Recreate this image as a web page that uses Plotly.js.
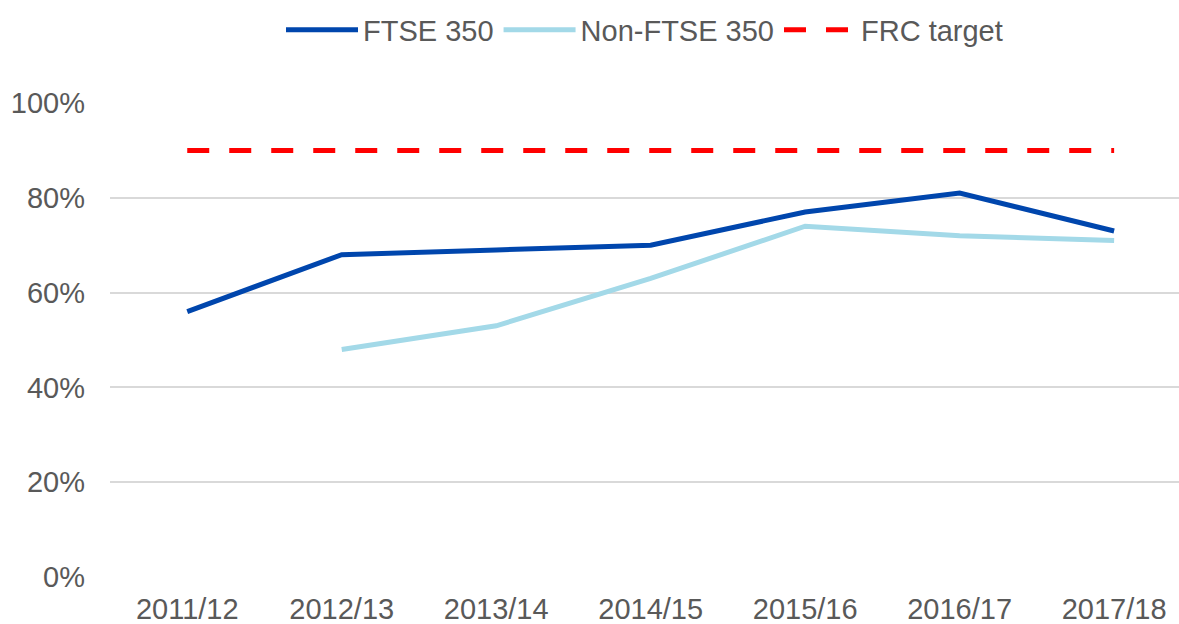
<!DOCTYPE html>
<html>
<head>
<meta charset="utf-8">
<script src="https://cdn.plot.ly/plotly-3.0.1.min.js"></script>
<style>html,body{margin:0;padding:0;background:#fff;}#chart{width:1179px;height:624px;}</style>
</head>
<body>
<div id="chart"></div>
<script>
const categories = ["2011/12","2012/13","2013/14","2014/15","2015/16","2016/17","2017/18"];
const ftse350 = [56, 68, 69, 70, 77, 81, 73];
const nonFtse350 = [null, 48, 53, 63, 74, 72, 71];
const frcTarget = [90, 90, 90, 90, 90, 90, 90];
const yTickVals = [0, 20, 40, 60, 80, 100];
const yTickText = ["0%","20%","40%","60%","80%","100%"];

const font = "Liberation Sans, Arial, sans-serif";
const textColor = "#595959";

const traces = [
  {x: categories, y: ftse350, name: "FTSE 350", type: "scatter", mode: "lines",
   line: {color: "#0046AD", width: 5}},
  {x: categories, y: nonFtse350, name: "Non-FTSE 350", type: "scatter", mode: "lines",
   line: {color: "#A3D9E8", width: 5}, connectgaps: false},
  {x: categories, y: frcTarget, name: "FRC target", type: "scatter", mode: "lines",
   line: {color: "#FF0000", width: 5, dash: "22px,20px"}}
];

const layout = {
  width: 1179, height: 624,
  margin: {l: 110, r: 0, t: 103, b: 47},
  paper_bgcolor: "#fff", plot_bgcolor: "#fff",
  font: {family: font, size: 29, color: textColor},
  showlegend: true,
  legend: {orientation: "h", x: 0.5, xanchor: "center", yref: "container", y: 0.952, yanchor: "middle",
           font: {family: font, size: 29, color: textColor}, itemwidth: 72},
  xaxis: {type: "category", range: [-0.5, 6.42], showgrid: false, zeroline: false,
          showline: false, ticks: "", ticklabelstandoff: 12,
          tickfont: {size: 29, color: textColor}, fixedrange: true},
  yaxis: {range: [0, 100], tickvals: yTickVals, ticktext: yTickText, showgrid: true,
          gridcolor: "#D9D9D9", gridwidth: 2, zeroline: false, showline: false, ticks: "",
          ticklabelstandoff: 24, tickfont: {size: 29, color: textColor}, fixedrange: true}
};

Plotly.newPlot("chart", traces, layout, {displayModeBar: false, staticPlot: true});
</script>
</body>
</html>
